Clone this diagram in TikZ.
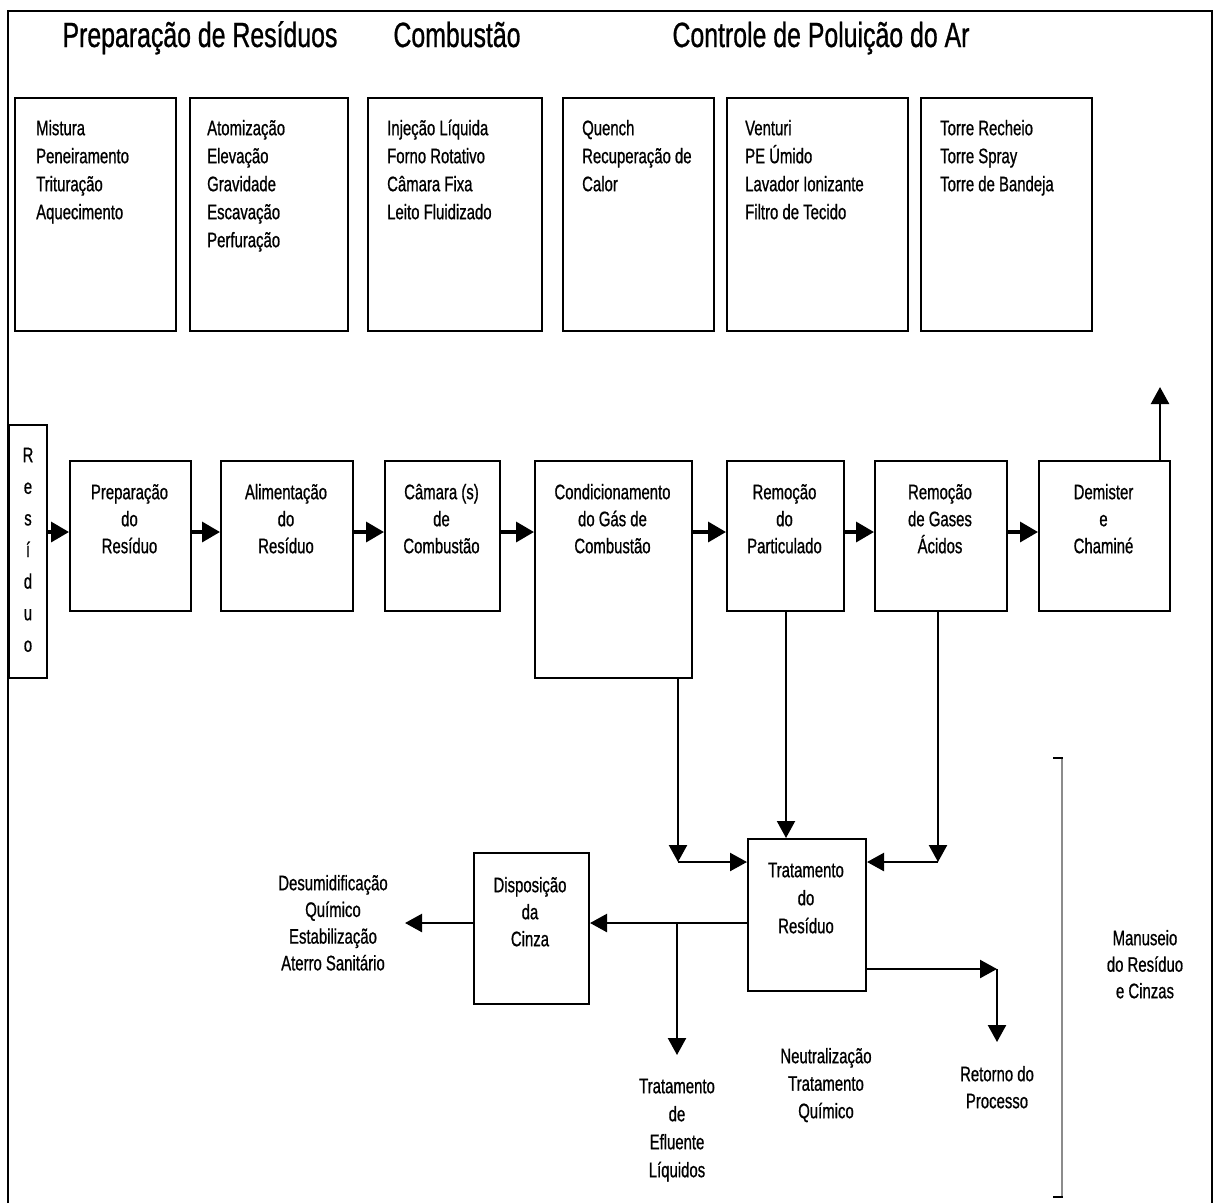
\documentclass[tikz,border=0pt]{standalone}
\usepackage{fontspec}
\setmainfont{Liberation Sans}[FakeStretch=0.71,FakeBold=0.8]
\usetikzlibrary{arrows.meta}
\newcommand{\fs}{\rule{0pt}{20pt}}
\begin{document}
\begin{tikzpicture}[x=1pt,y=-1pt,
  box/.style={draw, line width=2pt, inner sep=0pt, anchor=north west},
  lst/.style={inner sep=0pt, anchor=north west, align=left, font=\fontsize{21}{28}\selectfont},
  ctr/.style={inner sep=0pt, anchor=north, align=center, font=\fontsize{21}{27}\selectfont},
  ttl/.style={inner sep=0pt, anchor=base, font=\fontsize{35}{40}\selectfont},
  flow/.style={line width=3.4pt, -{Triangle[length=18pt,width=20pt]}},
  drop/.style={line width=2.4pt, -{Triangle[length=17pt,width=18pt]}}]
\useasboundingbox (0,0) rectangle (1214,1203);
\fill[white] (0,0) rectangle (1214,1203);

% outer frame (open at the bottom)
\draw[line width=2pt] (8,1203) -- (8,11) -- (1212,11) -- (1212,1203);

% section titles
\node[ttl] (t1) at (200,47) {Preparação de Resíduos};
\node[ttl] (t2) at (457,47) {Combustão};
\node[ttl] (t3) at (821,47) {Controle de Poluição do Ar};

% option boxes
\node[box, minimum width=161pt, minimum height=233pt] (o1) at (14,97) {};
\node[box, minimum width=158pt, minimum height=233pt] (o2) at (189,97) {};
\node[box, minimum width=174pt, minimum height=233pt] (o3) at (367,97) {};
\node[box, minimum width=151pt, minimum height=233pt] (o4) at (562,97) {};
\node[box, minimum width=181pt, minimum height=233pt] (o5) at (726,97) {};
\node[box, minimum width=171pt, minimum height=233pt] (o6) at (920,97) {};
\node[lst] (l1) at (36,115) {\fs Mistura\\Peneiramento\\Trituração\\Aquecimento};
\node[lst] (l2) at (207,115) {\fs Atomização\\Elevação\\Gravidade\\Escavação\\Perfuração};
\node[lst] (l3) at (387,115) {\fs Injeção Líquida\\Forno Rotativo\\Câmara Fixa\\Leito Fluidizado};
\node[lst] (l4) at (582,115) {\fs Quench\\Recuperação de\\Calor};
\node[lst] (l5) at (745,115) {\fs Venturi\\PE Úmido\\Lavador Ionizante\\Filtro de Tecido};
\node[lst] (l6) at (940,115) {\fs Torre Recheio\\Torre Spray\\Torre de Bandeja};

% main process row
\node[box, minimum width=38pt, minimum height=253pt] (res) at (8,424) {};
\node[ctr, font=\fontsize{21}{31.6}\selectfont] (resl) at (28,442) {\fs R\\e\\s\\í\\d\\u\\o};
\node[box, minimum width=121pt, minimum height=150pt] (prep) at (69,460) {};
\node[box, minimum width=132pt, minimum height=150pt] (alim) at (220,460) {};
\node[box, minimum width=115pt, minimum height=150pt] (cam) at (384,460) {};
\node[box, minimum width=157pt, minimum height=217pt] (cond) at (534,460) {};
\node[box, minimum width=117pt, minimum height=150pt] (part) at (726,460) {};
\node[box, minimum width=132pt, minimum height=150pt] (gas) at (874,460) {};
\node[box, minimum width=131pt, minimum height=150pt] (dem) at (1038,460) {};
\node[ctr] (prepl) at (129.5,479) {\fs Preparação\\do\\Resíduo};
\node[ctr] (aliml) at (286,479) {\fs Alimentação\\do\\Resíduo};
\node[ctr] (caml) at (441.5,479) {\fs Câmara (s)\\de\\Combustão};
\node[ctr] (condl) at (612.5,479) {\fs Condicionamento\\do Gás de\\Combustão};
\node[ctr] (partl) at (784.5,479) {\fs Remoção\\do\\Particulado};
\node[ctr] (gasl) at (940,479) {\fs Remoção\\de Gases\\Ácidos};
\node[ctr] (deml) at (1103.5,479) {\fs Demister\\e\\Chaminé};

\draw[flow] (res.east |- 0,532) -- (prep.west |- 0,532);
\draw[flow] (prep.east |- 0,532) -- (alim.west |- 0,532);
\draw[flow] (alim.east |- 0,532) -- (cam.west |- 0,532);
\draw[flow] (cam.east |- 0,532) -- (cond.west |- 0,532);
\draw[flow] (cond.east |- 0,532) -- (part.west |- 0,532);
\draw[flow] (part.east |- 0,532) -- (gas.west |- 0,532);
\draw[flow] (gas.east |- 0,532) -- (dem.west |- 0,532);
\coordinate (stack) at (1160,387);
\draw[drop] (dem.north -| stack) -- (stack);

% residue handling
\node[box, minimum width=118pt, minimum height=152pt] (trat) at (747,838) {};
\node[box, minimum width=115pt, minimum height=151pt] (disp) at (473,852) {};
\node[ctr, font=\fontsize{21}{28}\selectfont] (tratl) at (806,857) {\fs Tratamento\\do\\Resíduo};
\node[ctr] (displ) at (530,872) {\fs Disposição\\da\\Cinza};

\coordinate (j1) at (678,862);
\coordinate (j2) at (938,862);
\coordinate (j3) at (677,923);
\coordinate (j4) at (677,1055);
\coordinate (j5) at (997,969);
\coordinate (j6) at (997,1042);
\coordinate (j7) at (405,923);

\draw[drop] (cond.south -| j1) -- (j1);
\draw[drop] (j1) -- (j1 -| trat.west);
\draw[drop, line width=2pt] (part.south -| 786,0) -- (trat.north -| 786,0);
\draw[drop] (gas.south -| j2) -- (j2);
\draw[drop] (j2) -- (j2 -| trat.east);
\draw[drop] (trat.west |- j3) -- (disp.east |- j3);
\draw[drop] (j3) -- (j4);
\draw[drop] (disp.west |- j3) -- (j7);
\draw[drop] (trat.east |- j5) -- (j5);
\draw[drop] (j5) -- (j6);

\node[ctr, font=\fontsize{21}{26.7}\selectfont] (desum) at (333,870) {\fs Desumidificação\\Químico\\Estabilização\\Aterro Sanitário};
\node[ctr, font=\fontsize{21}{28}\selectfont] (efl) at (677,1073) {\fs Tratamento\\de\\Efluente\\Líquidos};
\node[ctr, font=\fontsize{21}{27.5}\selectfont] (neut) at (826,1043) {\fs Neutralização\\Tratamento\\Químico};
\node[ctr] (ret) at (997,1061) {\fs Retorno do\\Processo};

% bracket grouping the residue handling stage
\draw[line width=2pt, black!45] (1062,758) -- (1062,1197);
\draw[line width=2pt] (1053,758) -- (1063,758);
\draw[line width=2pt] (1053,1197) -- (1063,1197);
\node[ctr, font=\fontsize{21}{26.5}\selectfont] (man) at (1145,925) {\fs Manuseio\\do Resíduo\\e Cinzas};
\end{tikzpicture}
\end{document}
